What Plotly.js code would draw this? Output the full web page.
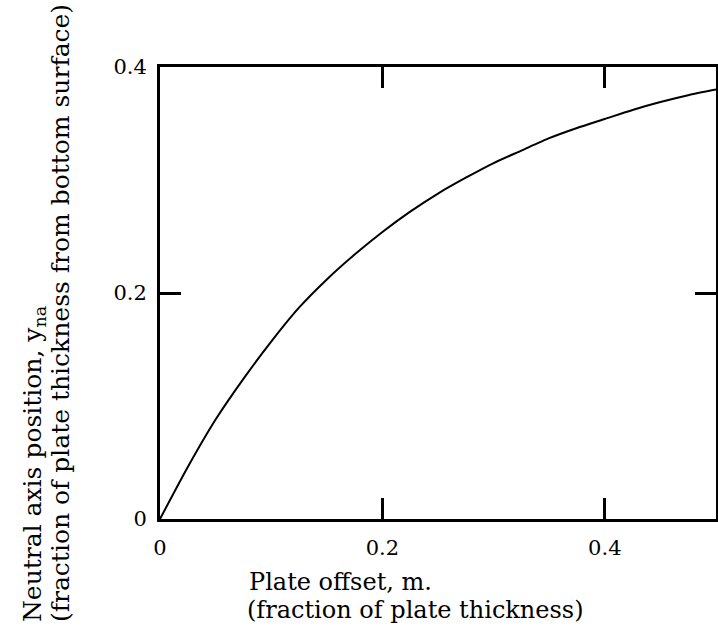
<!DOCTYPE html>
<html>
<head>
<meta charset="utf-8">
<script src="https://cdn.plot.ly/plotly-3.0.1.min.js"></script>
<style>html,body{margin:0;padding:0;background:#fff;}#chart{width:718px;height:639px;}</style>
</head>
<body>
<div id="chart"></div>
<script>
// Plate offset m (fraction of plate thickness)
const plateOffset = [0, 0.025, 0.05, 0.075, 0.1, 0.125, 0.15, 0.175, 0.2, 0.225, 0.25, 0.275, 0.3, 0.325, 0.35, 0.375, 0.4, 0.425, 0.45, 0.475, 0.5];
// Neutral axis position y_na (fraction of plate thickness from bottom surface)
const neutralAxis = [0, 0.046, 0.088, 0.124, 0.157, 0.187, 0.212, 0.234, 0.254, 0.272, 0.288, 0.302, 0.315, 0.326, 0.337, 0.346, 0.354, 0.362, 0.369, 0.375, 0.380];
const xTicks = [0, 0.2, 0.4];
const yTicks = [0, 0.2, 0.4];
const xTitleLines = ['Plate offset, m.', '(fraction of plate thickness)'];
const yTitleLines = ['Neutral axis position, y<sub>na</sub>', '(fraction of plate thickness from bottom surface)'];

const fam = '"DejaVu Serif", "Liberation Serif", serif';
const tickFont = {family: fam, size: 21, color: '#000'};
const xTitleFont = {family: fam, size: 24, color: '#000'};
const yTitleFont = {family: fam, size: 25, color: '#000'};

const trace = {
  x: plateOffset, y: neutralAxis, type: 'scatter', mode: 'lines',
  line: {color: '#000', width: 2, shape: 'spline', smoothing: 0.6},
  hoverinfo: 'none'
};

const axisCommon = {
  showgrid: false, zeroline: false, showline: true, linecolor: '#000', linewidth: 3,
  mirror: 'ticks', ticks: 'inside', ticklen: 21, tickwidth: 3, tickcolor: '#000',
  tickfont: tickFont, fixedrange: true
};

const W = 718, H = 639, L = 160, R = 2, T = 67, B = 120;
const pw = W - L - R, ph = H - T - B;
const px = p => (p - L) / pw;       // pixel -> paper x
const py = p => (H - B - p) / ph;   // pixel -> paper y

const layout = {
  width: W, height: H,
  margin: {l: L, r: R, t: T, b: B},
  paper_bgcolor: '#fff', plot_bgcolor: '#fff',
  showlegend: false,
  font: tickFont,
  xaxis: Object.assign({}, axisCommon, {range: [0, 0.5], tickvals: xTicks, ticktext: xTicks.map(String), ticklabelstandoff: 8}),
  yaxis: Object.assign({}, axisCommon, {range: [0, 0.4], tickvals: yTicks, ticktext: yTicks.map(String), ticklabelstandoff: 6}),
  annotations: [
    {text: xTitleLines[0], xref: 'paper', yref: 'paper', x: px(247), y: py(582),
     xanchor: 'left', yanchor: 'middle', showarrow: false, font: xTitleFont},
    {text: xTitleLines[1], xref: 'paper', yref: 'paper', x: px(245), y: py(610),
     xanchor: 'left', yanchor: 'middle', showarrow: false, font: xTitleFont},
    {text: yTitleLines[0], xref: 'paper', yref: 'paper', x: px(34), y: py(624),
     xanchor: 'center', yanchor: 'bottom', textangle: -90, showarrow: false, font: yTitleFont},
    {text: yTitleLines[1], xref: 'paper', yref: 'paper', x: px(60), y: py(624),
     xanchor: 'center', yanchor: 'bottom', textangle: -90, showarrow: false, font: yTitleFont}
  ]
};

Plotly.newPlot('chart', [trace], layout, {displayModeBar: false, staticPlot: true});
</script>
</body>
</html>
